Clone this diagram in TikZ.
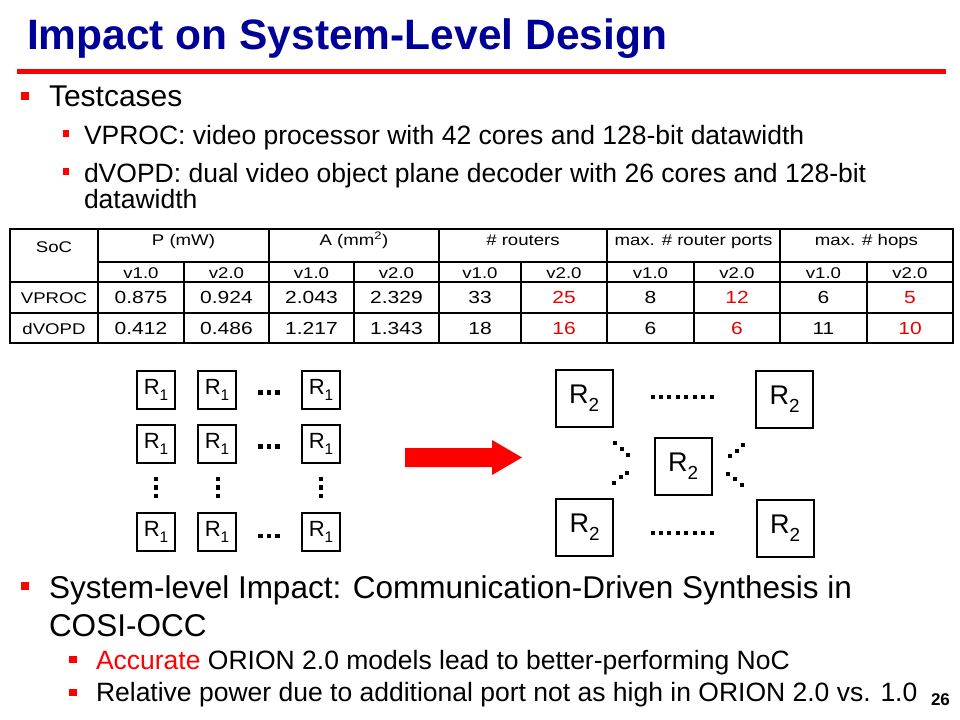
\documentclass[tikz,border=0pt]{standalone}
\usepackage{fontspec}
\setmainfont{Liberation Sans}
\newfontfamily\tabfont[FakeStretch=1.2]{Liberation Sans}
\definecolor{titleblue}{RGB}{0,0,153}
\definecolor{slidered}{RGB}{255,0,0}
\definecolor{numred}{RGB}{232,0,0}
\newcommand\rlab[1]{R\raisebox{-0.3em}{\scalebox{0.7}{#1}}}
\newcommand\sqdot[3]{\fill (#1-#3,#2-#3) rectangle (#1+#3,#2+#3);}
\begin{document}
\begin{tikzpicture}[x=1bp,y=-1bp,
  txt/.style={inner sep=0pt, outer sep=0pt, anchor=base west},
  cell/.style={inner sep=0pt, anchor=base, font=\tabfont\fontsize{15.5bp}{19bp}\selectfont},
  num/.style={inner sep=0pt, anchor=base, font=\tabfont\fontsize{17.5bp}{20bp}\selectfont},
  rednum/.style={num, text=numred},
  rbox/.style={draw, line width=2bp, minimum width=38bp, minimum height=38bp, inner sep=0pt, font=\fontsize{22bp}{26bp}\selectfont},
  rbig/.style={draw, line width=2bp, minimum width=57bp, minimum height=57bp, inner sep=0pt, font=\fontsize{27bp}{30bp}\selectfont},
  tline/.style={line width=1.2bp},
  thick line/.style={line width=2.5bp}
]
\useasboundingbox (0,0) rectangle (960,720);
\fill[white] (0,0) rectangle (960,720);

% title
\node[txt, font=\bfseries\fontsize{42.5bp}{50bp}\selectfont, text=titleblue] (title) at (27,50) {Impact on System-Level Design};
\fill[slidered] (17,69) rectangle (946,74.5);

% top bullets
\fill[slidered] (21,92) rectangle (29,100);
\node[txt, font=\fontsize{30bp}{36bp}\selectfont] (tc) at (49,107) {Testcases};
\fill[slidered] (63,130) rectangle (69,137);
\node[txt, font=\fontsize{26.5bp}{32bp}\selectfont] (vp) at (84,145) {VPROC: video processor with 42 cores and 128-bit datawidth};
\fill[slidered] (63,168) rectangle (69,175);
\node[txt, font=\fontsize{26.5bp}{32bp}\selectfont] (dv) at (84,183) {dVOPD: dual video object plane decoder with 26 cores and 128-bit};
\node[txt, font=\fontsize{26.5bp}{32bp}\selectfont] (dv2) at (84,208) {datawidth};

% table grid
\draw[tline] (10,229) rectangle (953,343);
\foreach \x in {98,269,439,780} {\draw[tline] (\x,229) -- (\x,343);}
\draw[line width=2bp] (607,229) -- (607,343);
\foreach \x in {184,354,521,694,867} {\draw[tline] (\x,262) -- (\x,343);}
\draw[tline] (98,262) -- (953,262);
\draw[thick line] (10,282) -- (953,282);
\draw[tline] (10,313) -- (953,313);

% table headers
\node[cell] (soc) at (54,252) {SoC};
\node[cell] (hp) at (183.5,245) {P (mW)};
\node[cell] (ha) at (354,245) {A (mm\textsuperscript{2})};
\node[cell] (hr) at (523,245) {\# routers};
\node[cell] (hpo) at (693.5,245) {max. \# router ports};
\node[cell] (hh) at (866.5,245) {max. \# hops};
\foreach \x/\v in {141/v1.0,226.5/v2.0,311.5/v1.0,396.5/v2.0,480/v1.0,564/v2.0,650.5/v1.0,737/v2.0,823.5/v1.0,910/v2.0}
  {\node[cell] at (\x,278) {\v};}

% rows
\node[cell] (vproc) at (54,303) {VPROC};
\node[cell] (dvopd) at (54,334.5) {dVOPD};
\node[num] at (141,303.5) {0.875};
\node[num] at (226.5,303.5) {0.924};
\node[num] at (311.5,303.5) {2.043};
\node[num] at (396.5,303.5) {2.329};
\node[num] at (480,303.5) {33};
\node[rednum] at (564,303.5) {25};
\node[num] at (650.5,303.5) {8};
\node[rednum] at (737,303.5) {12};
\node[num] at (823.5,303.5) {6};
\node[rednum] at (910,303.5) {5};
\node[num] at (141,334.5) {0.412};
\node[num] at (226.5,334.5) {0.486};
\node[num] at (311.5,334.5) {1.217};
\node[num] at (396.5,334.5) {1.343};
\node[num] at (480,334.5) {18};
\node[rednum] at (564,334.5) {16};
\node[num] at (650.5,334.5) {6};
\node[rednum] at (737,334.5) {6};
\node[num] at (823.5,334.5) {11};
\node[rednum] at (910,334.5) {10};

% R1 grid
\foreach \c/\x in {1/156,2/217,3/321} {
  \foreach \r/\y in {1/390,2/444,3/532} {
    \node[rbox] (r\r\c) at (\x,\y) {\rlab{1}};
  }
}
\foreach \y in {392.5,446.5,536} {
  \foreach \x in {260.5,269,277.5} {
    \sqdot{\x}{\y}{2.2}
  }
}
\foreach \x in {156,218,321} {
  \foreach \y in {479,487.5,496} {
    \sqdot{\x}{\y}{2.2}
  }
}

% arrow
\fill[slidered] (405,448) -- (492,448) -- (492,440) -- (522,457.5) -- (492,475) -- (492,467) -- (405,467) -- cycle;

% R2 group
\node[rbig] (tl) at (584,398.5) {\rlab{2}};
\node[rbig] (tr) at (784.5,399.5) {\rlab{2}};
\node[rbig] (ce) at (683,466) {\rlab{2}};
\node[rbig] (bl) at (584.5,527.5) {\rlab{2}};
\node[rbig] (br) at (785,528) {\rlab{2}};
\foreach \i in {0,...,7} {
  \sqdot{652.5+8.43*\i}{397}{2}
  \sqdot{652.5+8.43*\i}{533}{2}
}
\foreach \x/\y in {615/443.3,621.7/449.3,628.3/455,626.7/472.7,620.7/477.3,614/482.7,743.3/445,736.7/450.7,730/456,728.3/474,735/479.3,741.7/485} {
  \sqdot{\x}{\y}{1.9}
}

% bottom bullets
\fill[slidered] (21,582) rectangle (29,590);
\node[txt, font=\fontsize{31.5bp}{38bp}\selectfont] (sl) at (49,598) {System-level Impact: Communication-Driven Synthesis in};
\node[txt, font=\fontsize{31.5bp}{38bp}\selectfont] (cosi) at (49,636) {COSI-OCC};
\fill[slidered] (69,656) rectangle (77,663);
\node[txt, font=\fontsize{26.5bp}{32bp}\selectfont] (acc) at (96,669) {\textcolor{slidered}{Accurate} ORION 2.0 models lead to better-performing NoC};
\fill[slidered] (69,689) rectangle (77,696);
\node[txt, font=\fontsize{26.5bp}{32bp}\selectfont] (rel) at (96,701) {Relative power due to additional port not as high in ORION 2.0 vs. 1.0};
\node[txt, font=\bfseries\fontsize{17bp}{20bp}\selectfont] (pg) at (931,705) {26};
\end{tikzpicture}
\end{document}
